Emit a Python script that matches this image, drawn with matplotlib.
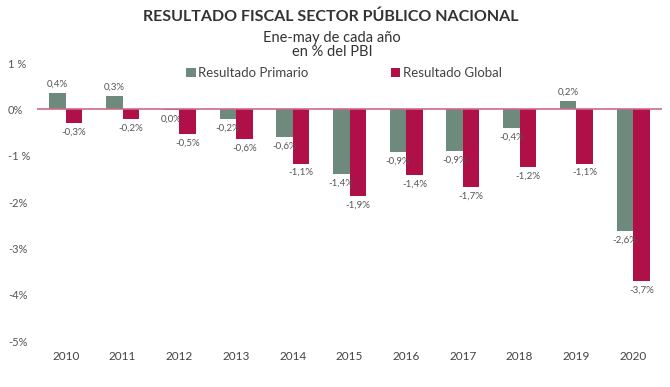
import matplotlib
matplotlib.use("Agg")
import matplotlib.pyplot as plt
import numpy as np

years = ["2010", "2011", "2012", "2013", "2014", "2015", "2016", "2017", "2018", "2019", "2020"]
primario = [0.35, 0.28, -0.02, -0.2, -0.6, -1.4, -0.92, -0.9, -0.4, 0.18, -2.62]
global_ = [-0.3, -0.2, -0.53, -0.65, -1.17, -1.88, -1.42, -1.68, -1.24, -1.17, -3.7]
prim_labels = ["0,4%", "0,3%", "0,0%", "-0,2%", "-0,6%", "-1,4%", "-0,9%", "-0,9%", "-0,4%", "0,2%", "-2,6%"]
glob_labels = ["-0,3%", "-0,2%", "-0,5%", "-0,6%", "-1,1%", "-1,9%", "-1,4%", "-1,7%", "-1,2%", "-1,1%", "-3,7%"]
yticks = [1, 0, -1, -2, -3, -4, -5]
ytick_labels = ["1 %", "0%", "-1 %", "-2%", "-3%", "-4%", "-5%"]

plt.rcParams['font.family'] = ['Lato', 'DejaVu Sans']
GREEN = "#6e8a7c"
RED = "#b01048"
TXT = "#555555"

fig = plt.figure(figsize=(6.7, 3.87), dpi=100)
ax = fig.add_axes([37/670, 1-341/387, 625/670, (341-63)/387])
x = np.arange(len(years))
w = 0.29
ax.bar(x - w/2, primario, w, color=GREEN, label="Resultado Primario")
ax.bar(x + w/2, global_, w, color=RED, label="Resultado Global")
ax.axhline(0, color="#d06a88", lw=1.2, zorder=3)
ax.set_xlim(-0.51, 10.51)
ax.set_ylim(-5, 1)
for s in ax.spines.values():
    s.set_visible(False)
ax.set_yticks(yticks)
ax.set_yticklabels(ytick_labels, fontsize=8, color=TXT)
ax.tick_params(axis='y', length=0, pad=21)
for lab in ax.get_yticklabels():
    lab.set_horizontalalignment('left')
ax.set_xticks(x)
ax.set_xticklabels(years, fontsize=8.5, color="#444444")
ax.tick_params(axis='x', length=0, pad=7)

for i in range(len(years)):
    v = primario[i]
    xi = x[i] - w/2
    if v > 0:
        ax.text(xi, v + 0.1, prim_labels[i], ha='center', va='bottom', fontsize=7, color=TXT)
    else:
        ax.text(xi, v - 0.1, prim_labels[i], ha='center', va='top', fontsize=7, color=TXT)
    g = global_[i]
    xg = x[i] + w/2
    ax.text(xg, g - 0.1, glob_labels[i], ha='center', va='top', fontsize=7, color=TXT)

fig.text(331/670, 1-17/387, "RESULTADO FISCAL SECTOR PÚBLICO NACIONAL", ha='center', va='center',
         fontsize=11.5, fontweight='bold', color="#333333")
fig.text(332/670, 1-38/387, "Ene-may de cada año", ha='center', va='center', fontsize=10.5, color="#333333")
fig.text(332/670, 1-52/387, "en % del PBI", ha='center', va='center', fontsize=10.5, color="#333333")

leg = fig.legend(loc='center', bbox_to_anchor=(344/670, 1-73/387), ncol=2, frameon=False,
                 fontsize=9.5, handlelength=0.75, handleheight=0.75, handletextpad=0.2, columnspacing=6.2)
for t in leg.get_texts():
    t.set_color("#444444")

fig.savefig("out.png", dpi=100)
